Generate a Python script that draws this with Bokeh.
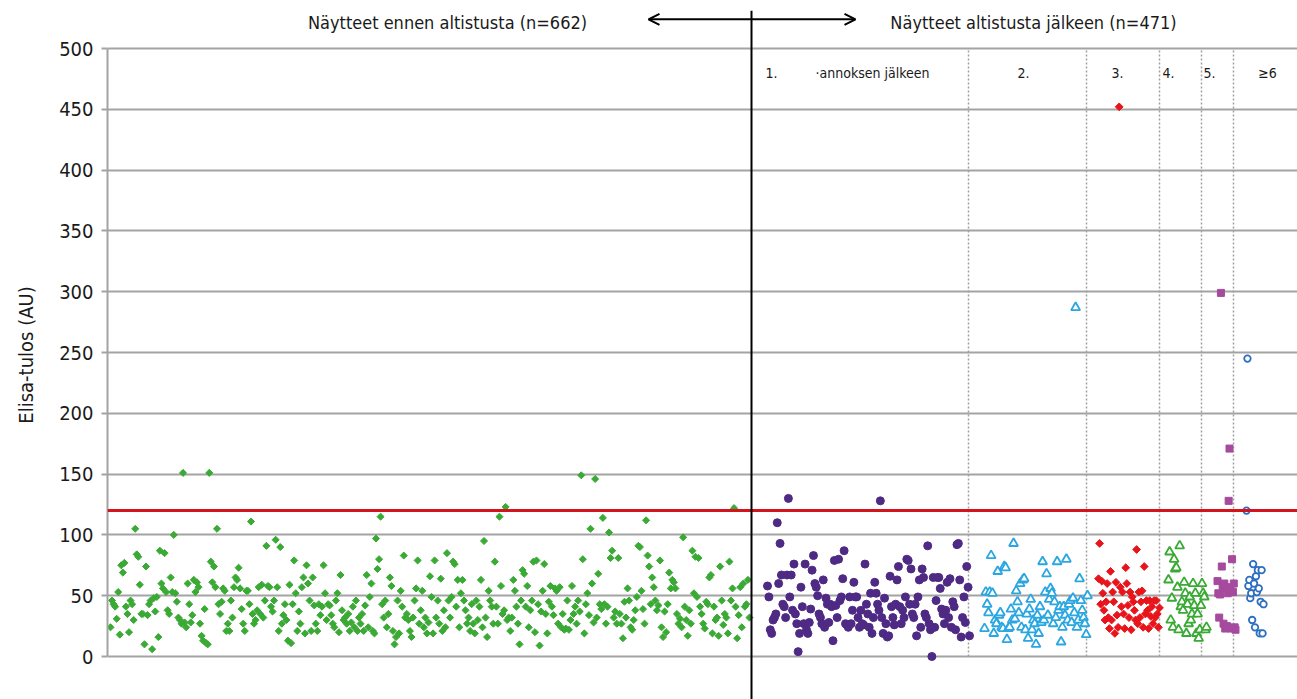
from bokeh.plotting import figure
from bokeh.models import Range1d, FixedTicker, Span, Label, Arrow, OpenHead
from bokeh.embed import file_html
from bokeh.resources import INLINE
import numpy as np

# ---------------- data (Elisa-tulos, AU) ----------------
pre_values = [
    24, 46, 43, 41, 31, 53, 18, 75, 69, 77, 41, 35, 20, 46, 43, 30, 105, 84, 82, 59, 35, 35, 10, 74, 34,
    43, 46, 6, 48, 37, 49, 16, 87, 60, 56, 85, 53, 38, 35, 65, 53, 100, 52, 45, 32, 30, 27, 151, 28, 24,
    60, 43, 28, 34, 63, 53, 61, 57, 27, 17, 13, 39, 11, 10, 151, 78, 61, 74, 57, 105, 43, 35, 45, 56, 54,
    21, 27, 21, 46, 32, 57, 65, 63, 73, 56, 39, 27, 21, 54, 54, 43, 111, 35, 27, 30, 38, 57, 35, 59, 32,
    46, 91, 58, 57, 41, 37, 46, 96, 57, 21, 90, 27, 34, 43, 30, 13, 59, 11, 43, 79, 52, 21, 37, 27, 57,
    65, 19, 75, 60, 46, 21, 65, 42, 27, 21, 43, 34, 41, 75, 52, 30, 43,
    42, 34, 27, 24, 46, 52, 20, 67, 38, 30, 32, 27, 35, 21, 28, 41, 24, 46, 21, 32, 27, 35, 21, 42, 67,
    24, 49, 60, 21, 19, 97, 72, 80, 115, 43, 32, 46, 24, 35, 65, 58, 21, 10, 16, 46, 19, 54, 41, 83, 32,
    35, 30, 21, 16, 32, 46, 56, 79, 27, 38, 54, 24, 32, 19, 28, 66, 49, 19, 79, 32, 46, 27, 64, 21, 38,
    24, 85, 46, 32, 49, 78, 76, 41, 63, 24, 52, 63, 46, 38, 27, 32, 21, 43, 27, 19, 46, 30, 41, 63, 24,
    95, 32, 16, 54, 46, 41, 27, 78, 41, 27, 115, 58, 35, 38, 123, 30, 32, 21, 32, 63, 54, 41, 27, 10, 46,
    71, 68, 41, 58, 24, 38, 46, 78,
    20, 79, 43, 9, 37, 54, 76, 35, 19, 45, 58, 41, 34, 56, 54, 27, 57, 24, 35, 22, 23, 46, 22, 30, 58,
    35, 41, 27, 46, 37, 149, 80, 19, 43, 52, 34, 105, 60, 28, 146, 32, 68, 43, 39, 114, 43, 27, 41, 102,
    81, 87, 32, 37, 27, 81, 35, 27, 15, 45, 32, 56, 46, 24, 22, 30, 38, 49, 91, 90, 54, 39, 27, 112, 83,
    74, 43, 65, 57, 46, 38, 42, 79, 24, 16, 37, 20, 43, 69, 56, 63, 61, 56, 35, 27, 31, 24, 98, 41, 30,
    17, 38, 27, 87, 52, 82, 49, 81, 41, 35, 27, 23, 45, 43, 65, 67, 19, 41, 30, 32, 17, 74, 46, 26, 35,
    32, 19, 78, 46, 56, 122, 41, 15, 34, 57, 24, 60, 41, 43, 63, 32,
]
dose1_values = [
    58, 49, 22, 19, 30, 32, 35, 110, 60, 93, 67, 43, 41, 32, 67, 130, 49, 67, 38, 76, 35, 27, 4, 19, 57,
    41, 27, 76, 22, 19, 28, 39, 71, 83, 60, 57, 50, 35, 32, 27, 63, 24, 48, 43, 28, 43, 41, 13, 79, 42,
    32, 80, 46, 49, 64, 87, 27, 26, 24, 49, 27, 38, 61, 49, 49, 32, 24, 38, 27, 26, 76, 43, 35, 24, 52,
    19, 32, 61, 52, 43, 38, 128, 32, 19, 48, 27, 16, 17, 66, 41, 32, 26, 43, 63, 74, 41, 27, 38, 32, 49,
    80, 79, 43, 72, 35, 32, 43, 17, 49, 63, 24, 72, 65, 35, 32, 91, 27, 22, 0, 65, 24, 46, 65, 65, 56,
    39, 35, 27, 38, 61, 32, 64, 24, 45, 41, 22, 92, 93, 63, 16, 32, 49, 28, 74, 57, 17,
]
dose2_values = [
    23, 53, 43, 36, 53, 83, 52, 19, 30, 27, 70, 34, 36, 24, 23, 74, 73, 14, 23, 24, 39, 30, 93, 31, 54,
    45, 36, 60, 24, 63, 64, 22, 35, 15, 39, 47, 22, 30, 27, 10, 34, 19, 41, 28, 78, 30, 53, 68, 34, 47,
    56, 52, 27, 45, 32, 78, 38, 41, 12, 24, 41, 34, 80, 30, 43, 46, 28, 48, 36, 287, 24, 30, 64, 46, 38,
    32, 27, 18, 50,
]
dose3_values = [
    64, 93, 43, 62, 52, 38, 30, 45, 60, 32, 23, 70, 30, 53, 45, 19, 61, 34, 24, 452, 57, 41, 53, 35, 23,
    73, 60, 42, 32, 53, 22, 49, 45, 38, 30, 88, 27, 53, 32, 45, 54, 24, 74, 35, 46, 38, 23, 46, 33, 41,
    27, 46, 32, 46, 35, 24, 40,
]
dose4_values = [
    63, 86, 30, 48, 24, 80, 72, 73, 57, 22, 91, 41, 45, 38, 61, 52, 19, 43, 27, 49, 30, 35, 60, 42, 52,
    19, 35, 15, 22, 42, 60, 52, 49, 22, 24,
]
dose5_values = [62, 52, 32, 51, 299, 74, 58, 27, 60, 23, 56, 25, 52, 128, 171, 57, 23, 80, 53, 60, 24, 22]
dose6_values = [120, 245, 58, 63, 48, 52, 30, 76, 60, 24, 66, 53, 71, 56, 19, 45, 71, 19, 43]

y_ticks = [0, 50, 100, 150, 200, 250, 300, 350, 400, 450, 500]
cutoff = 120
title_before = "Näytteet ennen altistusta (n=662)"
title_after = "Näytteet altistusta jälkeen (n=471)"
group_labels = ["1.", "·annoksen jälkeen", "2.", "3.", "4.", "5.", "≥6"]
axis_title = "Elisa-tulos (AU)"

# ---------------- layout ----------------
FONT = "'DejaVu Sans Condensed', 'DejaVu Sans', sans-serif"
XMAX = 1190
group_spans = [(3, 642), (660, 862), (877, 980), (991, 1052), (1061, 1099), (1110, 1128), (1139, 1156)]
separators = [861, 979, 1052, 1094, 1126]
divider = 644

p = figure(width=1297, height=699, output_backend="svg", toolbar_location=None,
           x_range=Range1d(0, XMAX), y_range=Range1d(-35.36, 531.25),
           x_axis_location=None,
           min_border_left=107, min_border_right=0, min_border_top=10, min_border_bottom=0)
p.outline_line_color = None
p.background_fill_color = "white"
p.xgrid.visible = False

grid_col = "#a3a3a3"
p.yaxis.ticker = FixedTicker(ticks=y_ticks)
p.ygrid.ticker = FixedTicker(ticks=y_ticks)
p.ygrid.grid_line_color = grid_col
p.ygrid.grid_line_width = 2
p.yaxis.bounds = (0, 500)
p.yaxis.axis_line_color = grid_col
p.yaxis.axis_line_width = 2
p.yaxis.major_tick_line_color = grid_col
p.yaxis.major_tick_line_width = 2
p.yaxis.major_tick_out = 6
p.yaxis.major_tick_in = 0
p.yaxis.minor_tick_line_color = None
p.yaxis.major_label_standoff = 8
p.yaxis.major_label_text_font = FONT
p.yaxis.major_label_text_font_size = "20px"
p.yaxis.major_label_text_color = "#1a1a1a"
p.yaxis.axis_label = axis_title
p.yaxis.axis_label_text_font = FONT
p.yaxis.axis_label_text_font_size = "20px"
p.yaxis.axis_label_text_font_style = "normal"
p.yaxis.axis_label_text_color = "#1a1a1a"
p.yaxis.axis_label_standoff = 18

# separators (dotted)
p.segment(x0=separators, y0=[0] * len(separators), x1=separators, y1=[500] * len(separators),
          line_color="#a0a0a0", line_width=1.5, line_dash="2 2")

# cutoff line
p.add_layout(Span(location=cutoff, dimension="width", line_color="#d4141c", line_width=3))
# divider
p.add_layout(Span(location=divider, dimension="height", line_color="black", line_width=2))


def xs(i, vals):
    a, b = group_spans[i]
    return np.linspace(a, b, len(vals))


# series
p.scatter(xs(0, pre_values), pre_values, marker="square", angle=np.pi / 4, size=5,
          fill_color="#3aaa35", line_color="#3aaa35", line_width=1)
p.scatter(xs(1, dose1_values), dose1_values, marker="circle", size=8,
          fill_color="#4e2a84", line_color="#4e2a84", line_width=1)
p.scatter(xs(2, dose2_values), dose2_values, marker="triangle", size=9,
          fill_color="white", line_color="#2aa6e0", line_width=1.8)
p.scatter(xs(3, dose3_values), dose3_values, marker="square", angle=np.pi / 4, size=5.5,
          fill_color="#e8141b", line_color="#e8141b", line_width=1)
p.scatter(xs(4, dose4_values), dose4_values, marker="triangle", size=9,
          fill_color="white", line_color="#3aaa35", line_width=1.8)
p.scatter(xs(5, dose5_values), dose5_values, marker="square", size=7,
          fill_color="#a64a9e", line_color="#a64a9e", line_width=1)
p.scatter(xs(6, dose6_values), dose6_values, marker="circle", size=6.5,
          fill_color="white", line_color="#2c6fc0", line_width=1.8)

# titles & arrow
txt = dict(text_font=FONT, text_color="#1a1a1a", text_baseline="middle")
p.add_layout(Label(x=340, y=521, text=title_before, text_align="center", text_font_size="18px", **txt))
p.add_layout(Label(x=926, y=521, text=title_after, text_align="center", text_font_size="18px", **txt))
p.add_layout(Arrow(start=OpenHead(size=11, line_width=2, line_color="black"),
                   end=OpenHead(size=11, line_width=2, line_color="black"),
                   x_start=541, y_start=524, x_end=748, y_end=524,
                   line_color="black", line_width=2))

# group labels
label_pos = [(658, "left"), (708, "left"), (916, "center"), (1010, "center"),
             (1061, "center"), (1102, "center"), (1160, "center")]
for (lx, al), t in zip(label_pos, group_labels):
    p.add_layout(Label(x=lx, y=480, text=t, text_align=al, text_font_size="14px", **txt))

open("out.html", "w").write(file_html(p, INLINE))
